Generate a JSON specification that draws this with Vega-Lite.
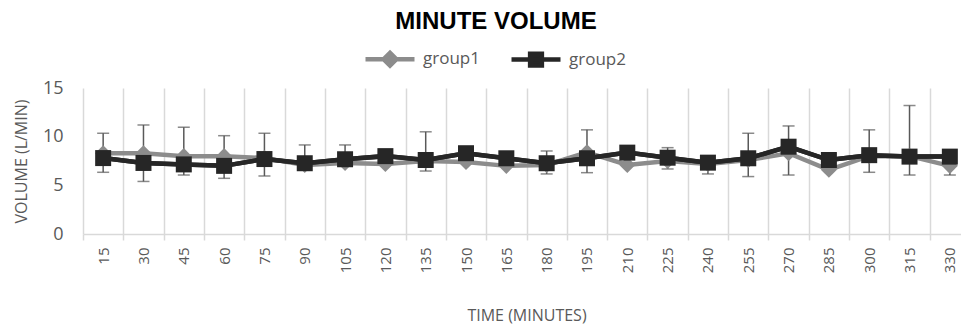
{
  "$schema": "https://vega.github.io/schema/vega-lite/v6.json",
  "width": 878,
  "height": 146,
  "autosize": "none",
  "padding": {"left": 83, "top": 88, "right": 0, "bottom": 91},
  "title": {"text": "MINUTE VOLUME", "font": "Liberation Sans", "fontSize": 24, "fontWeight": "bold", "color": "#000000", "anchor": "middle", "frame": "group", "offset": -2, "dx": -26},
  "datasets": {
    "series": [
      {"time": "15", "group": "group1", "value": 8.3},
      {"time": "30", "group": "group1", "value": 8.3},
      {"time": "45", "group": "group1", "value": 8.0},
      {"time": "60", "group": "group1", "value": 8.0},
      {"time": "75", "group": "group1", "value": 7.8},
      {"time": "90", "group": "group1", "value": 7.1},
      {"time": "105", "group": "group1", "value": 7.3},
      {"time": "120", "group": "group1", "value": 7.2},
      {"time": "135", "group": "group1", "value": 7.5},
      {"time": "150", "group": "group1", "value": 7.4},
      {"time": "165", "group": "group1", "value": 7.0},
      {"time": "180", "group": "group1", "value": 7.1},
      {"time": "195", "group": "group1", "value": 8.4},
      {"time": "210", "group": "group1", "value": 7.1},
      {"time": "225", "group": "group1", "value": 7.5},
      {"time": "240", "group": "group1", "value": 7.2},
      {"time": "255", "group": "group1", "value": 7.6},
      {"time": "270", "group": "group1", "value": 8.3},
      {"time": "285", "group": "group1", "value": 6.6},
      {"time": "300", "group": "group1", "value": 8.0},
      {"time": "315", "group": "group1", "value": 8.0},
      {"time": "330", "group": "group1", "value": 7.0},
      {"time": "15", "group": "group2", "value": 7.8},
      {"time": "30", "group": "group2", "value": 7.3},
      {"time": "45", "group": "group2", "value": 7.15},
      {"time": "60", "group": "group2", "value": 7.0},
      {"time": "75", "group": "group2", "value": 7.7},
      {"time": "90", "group": "group2", "value": 7.27},
      {"time": "105", "group": "group2", "value": 7.68},
      {"time": "120", "group": "group2", "value": 8.0},
      {"time": "135", "group": "group2", "value": 7.6},
      {"time": "150", "group": "group2", "value": 8.3},
      {"time": "165", "group": "group2", "value": 7.78},
      {"time": "180", "group": "group2", "value": 7.27},
      {"time": "195", "group": "group2", "value": 7.78},
      {"time": "210", "group": "group2", "value": 8.36},
      {"time": "225", "group": "group2", "value": 7.84},
      {"time": "240", "group": "group2", "value": 7.33},
      {"time": "255", "group": "group2", "value": 7.78},
      {"time": "270", "group": "group2", "value": 8.97},
      {"time": "285", "group": "group2", "value": 7.6},
      {"time": "300", "group": "group2", "value": 8.1},
      {"time": "315", "group": "group2", "value": 7.95},
      {"time": "330", "group": "group2", "value": 7.95}
    ],
    "errors": [
      {"time": "15", "lo": 6.34, "hi": 10.35},
      {"time": "30", "lo": 5.4, "hi": 11.2},
      {"time": "45", "lo": 6.06, "hi": 10.97},
      {"time": "60", "lo": 5.72, "hi": 10.1},
      {"time": "75", "lo": 5.96, "hi": 10.35},
      {"time": "90", "lo": 6.8, "hi": 9.15},
      {"time": "105", "lo": 7.0, "hi": 9.15},
      {"time": "120", "lo": 7.4, "hi": 8.5},
      {"time": "135", "lo": 6.47, "hi": 10.5},
      {"time": "150", "lo": 7.7, "hi": 8.9},
      {"time": "165", "lo": 7.2, "hi": 8.4},
      {"time": "180", "lo": 6.17, "hi": 8.53},
      {"time": "195", "lo": 6.3, "hi": 10.7},
      {"time": "210", "lo": 7.8, "hi": 8.9},
      {"time": "225", "lo": 6.68, "hi": 8.87},
      {"time": "240", "lo": 6.17, "hi": 7.9},
      {"time": "255", "lo": 5.9, "hi": 10.35},
      {"time": "270", "lo": 6.06, "hi": 11.1},
      {"time": "285", "lo": 7.1, "hi": 8.2},
      {"time": "300", "lo": 6.34, "hi": 10.7},
      {"time": "315", "lo": 6.06, "hi": 13.2},
      {"time": "330", "lo": 6.06, "hi": 8.4}
    ]
  },
  "encoding": {
    "x": {
      "field": "time", "type": "ordinal", "sort": null,
      "scale": {"type": "band", "paddingInner": 0, "paddingOuter": 0, "range": [0, 887]},
      "axis": {
        "title": "TIME (MINUTES)", "titleFont": "Open Sans", "titleFontSize": 16, "titleFontWeight": "normal", "titleColor": "#595959", "titlePadding": 35,
        "labelAngle": -90, "labelFont": "Open Sans", "labelFontSize": 15, "labelColor": "#595959", "labelPadding": 7,
        "grid": true, "tickBand": "extent", "gridColor": "#d9d9d9", "gridWidth": 1.5,
        "domainColor": "#d9d9d9", "domainWidth": 1.5, "tickColor": "#d9d9d9", "tickWidth": 1.5, "tickSize": 6
      }
    }
  },
  "layer": [
    {
      "data": {"name": "errors"},
      "mark": {"type": "rule", "color": "#595959", "strokeWidth": 1.5},
      "encoding": {
        "y": {"field": "lo", "type": "quantitative"},
        "y2": {"field": "hi"}
      }
    },
    {
      "data": {"name": "errors"},
      "mark": {"type": "tick", "color": "#595959", "thickness": 1.5, "size": 12},
      "encoding": {"y": {"field": "lo", "type": "quantitative"}}
    },
    {
      "data": {"name": "errors"},
      "mark": {"type": "tick", "color": "#595959", "thickness": 1.5, "size": 12},
      "encoding": {"y": {"field": "hi", "type": "quantitative"}}
    },
    {
      "data": {"name": "series"},
      "mark": {"type": "line", "strokeWidth": 4.5},
      "encoding": {
        "y": {
          "field": "value", "type": "quantitative",
          "scale": {"domain": [0, 15], "nice": false},
          "axis": {
            "title": "VOLUME (L/MIN)", "titleFont": "Open Sans", "titleFontSize": 16, "titleFontWeight": "normal", "titleColor": "#595959", "titlePadding": 13,
            "values": [0, 5, 10, 15], "labelFont": "Open Sans", "labelFontSize": 18, "labelColor": "#595959", "labelPadding": 20,
            "grid": false, "domain": false, "ticks": false
          }
        },
        "color": {
          "field": "group", "type": "nominal",
          "scale": {"domain": ["group1", "group2"], "range": ["#8c8c8c", "#262626"]},
          "legend": {
            "title": null, "orient": "none", "direction": "horizontal", "legendX": 280, "legendY": -56,
            "labelFont": "Open Sans", "labelFontSize": 17, "labelColor": "#595959", "labelOffset": 6,
            "columnPadding": 22, "symbolSize": 2401, "symbolStrokeWidth": 4,
            "encode": {
              "symbols": {
                "update": {
                  "shape": {"signal": "datum.value === 'group1' ? 'M-1,0H1M0,-0.26L0.26,0L0,0.26L-0.26,0Z' : 'M-1,0H1M-0.24,-0.24H0.24V0.24H-0.24Z'"},
                  "fill": {"signal": "datum.value === 'group1' ? '#8c8c8c' : '#262626'"},
                  "stroke": {"signal": "datum.value === 'group1' ? '#8c8c8c' : '#262626'"},
                  "strokeWidth": {"value": 4.5},
                  "opacity": {"value": 1}
                }
              }
            }
          }
        },
        "detail": {"field": "group"}
      }
    },
    {
      "data": {"name": "series"},
      "transform": [{"filter": "datum.group === 'group1'"}],
      "mark": {"type": "point", "shape": "diamond", "filled": true, "size": 260, "color": "#8c8c8c", "opacity": 1},
      "encoding": {"y": {"field": "value", "type": "quantitative"}}
    },
    {
      "data": {"name": "series"},
      "transform": [{"filter": "datum.group === 'group2'"}],
      "mark": {"type": "line", "strokeWidth": 4.5, "color": "#262626"},
      "encoding": {"y": {"field": "value", "type": "quantitative"}}
    },
    {
      "data": {"name": "series"},
      "transform": [{"filter": "datum.group === 'group2'"}],
      "mark": {"type": "point", "shape": "square", "filled": true, "size": 256, "color": "#262626", "opacity": 1},
      "encoding": {"y": {"field": "value", "type": "quantitative"}}
    }
  ],
  "config": {"view": {"stroke": null}, "background": "#ffffff"}
}
